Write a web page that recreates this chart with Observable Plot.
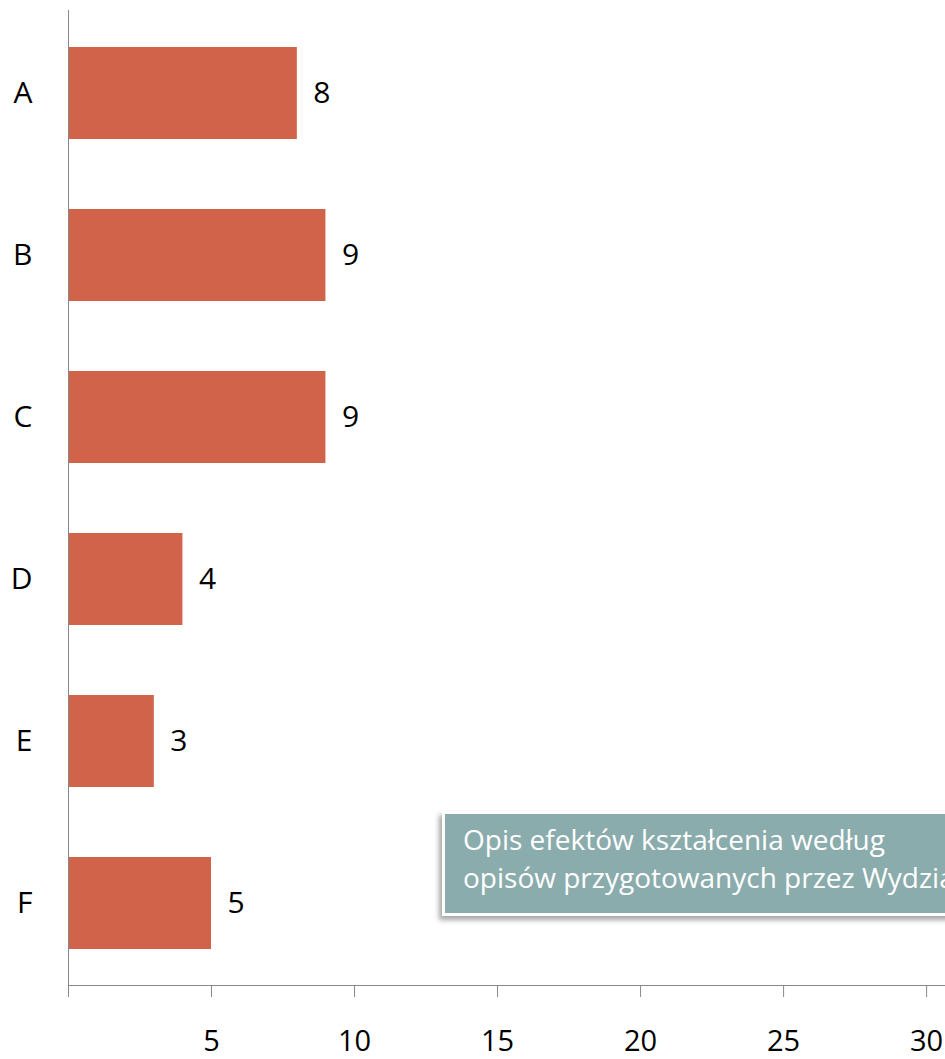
<!DOCTYPE html>
<html>
<head>
<meta charset="utf-8">
<script src="https://cdn.jsdelivr.net/npm/d3@7"></script>
<script src="https://cdn.jsdelivr.net/npm/@observablehq/plot@0.6"></script>
<style>
  html, body { margin: 0; padding: 0; background: #fff; overflow: hidden; }
  #wrap { position: relative; width: 945px; height: 1059px; overflow: hidden; font-family: "Open Sans", sans-serif; }
  #note {
    position: absolute; left: 442px; top: 811px; width: 600px; height: 93px;
    background: #8BACAC; border: 3px solid #fff;
    box-shadow: -3px 4px 5px rgba(0,0,0,0.35);
    color: #fff; font-family: "Open Sans", sans-serif; font-size: 28px; line-height: 38px;
    padding: 6px 0 0 18px; box-sizing: content-box; white-space: nowrap;
  }
</style>
</head>
<body>
<div id="wrap"></div>
<script>
const categories = ["A", "B", "C", "D", "E", "F"];
const values = [8, 9, 9, 4, 3, 5];
const xTicks = [0, 5, 10, 15, 20, 25, 30];
const noteLines = ["Opis efektów kształcenia według", "opisów przygotowanych przez Wydział"];

const data = categories.map((c, i) => ({cat: c, value: values[i]}));

const chart = Plot.plot({
  width: 945,
  height: 1059,
  marginLeft: 68,
  marginRight: 0,
  marginTop: 10,
  marginBottom: 74,
  style: {fontFamily: "Open Sans, sans-serif", background: "#fff"},
  x: {domain: [0, 30.66]},
  y: {domain: categories, paddingInner: 0.433, paddingOuter: 0.2165},
  marks: [
    Plot.barX(data, {x: "value", y: "cat", fill: "#D0634A"}),
    Plot.text(data, {x: "value", y: "cat", text: d => String(d.value), textAnchor: "start", dx: 16, fontSize: 30, fill: "#000"}),
    Plot.frame({anchor: "bottom", stroke: "#888"}),
    Plot.axisX({ticks: xTicks, tickSize: 12, tickPadding: 33, tickFormat: d => d === 0 ? "" : String(d), fontSize: 29, stroke: "#888", fill: "#000", label: null}),
    Plot.axisY({tickSize: 0, tickPadding: 36, fontSize: 30, fill: "#000", stroke: "#888", label: null}),
    Plot.ruleX([0], {stroke: "#888"})
  ]
});

const wrap = document.getElementById("wrap");
wrap.appendChild(chart);
const note = document.createElement("div");
note.id = "note";
note.innerHTML = noteLines.map(s => `<div>${s}</div>`).join("");
wrap.appendChild(note);
</script>
</body>
</html>
